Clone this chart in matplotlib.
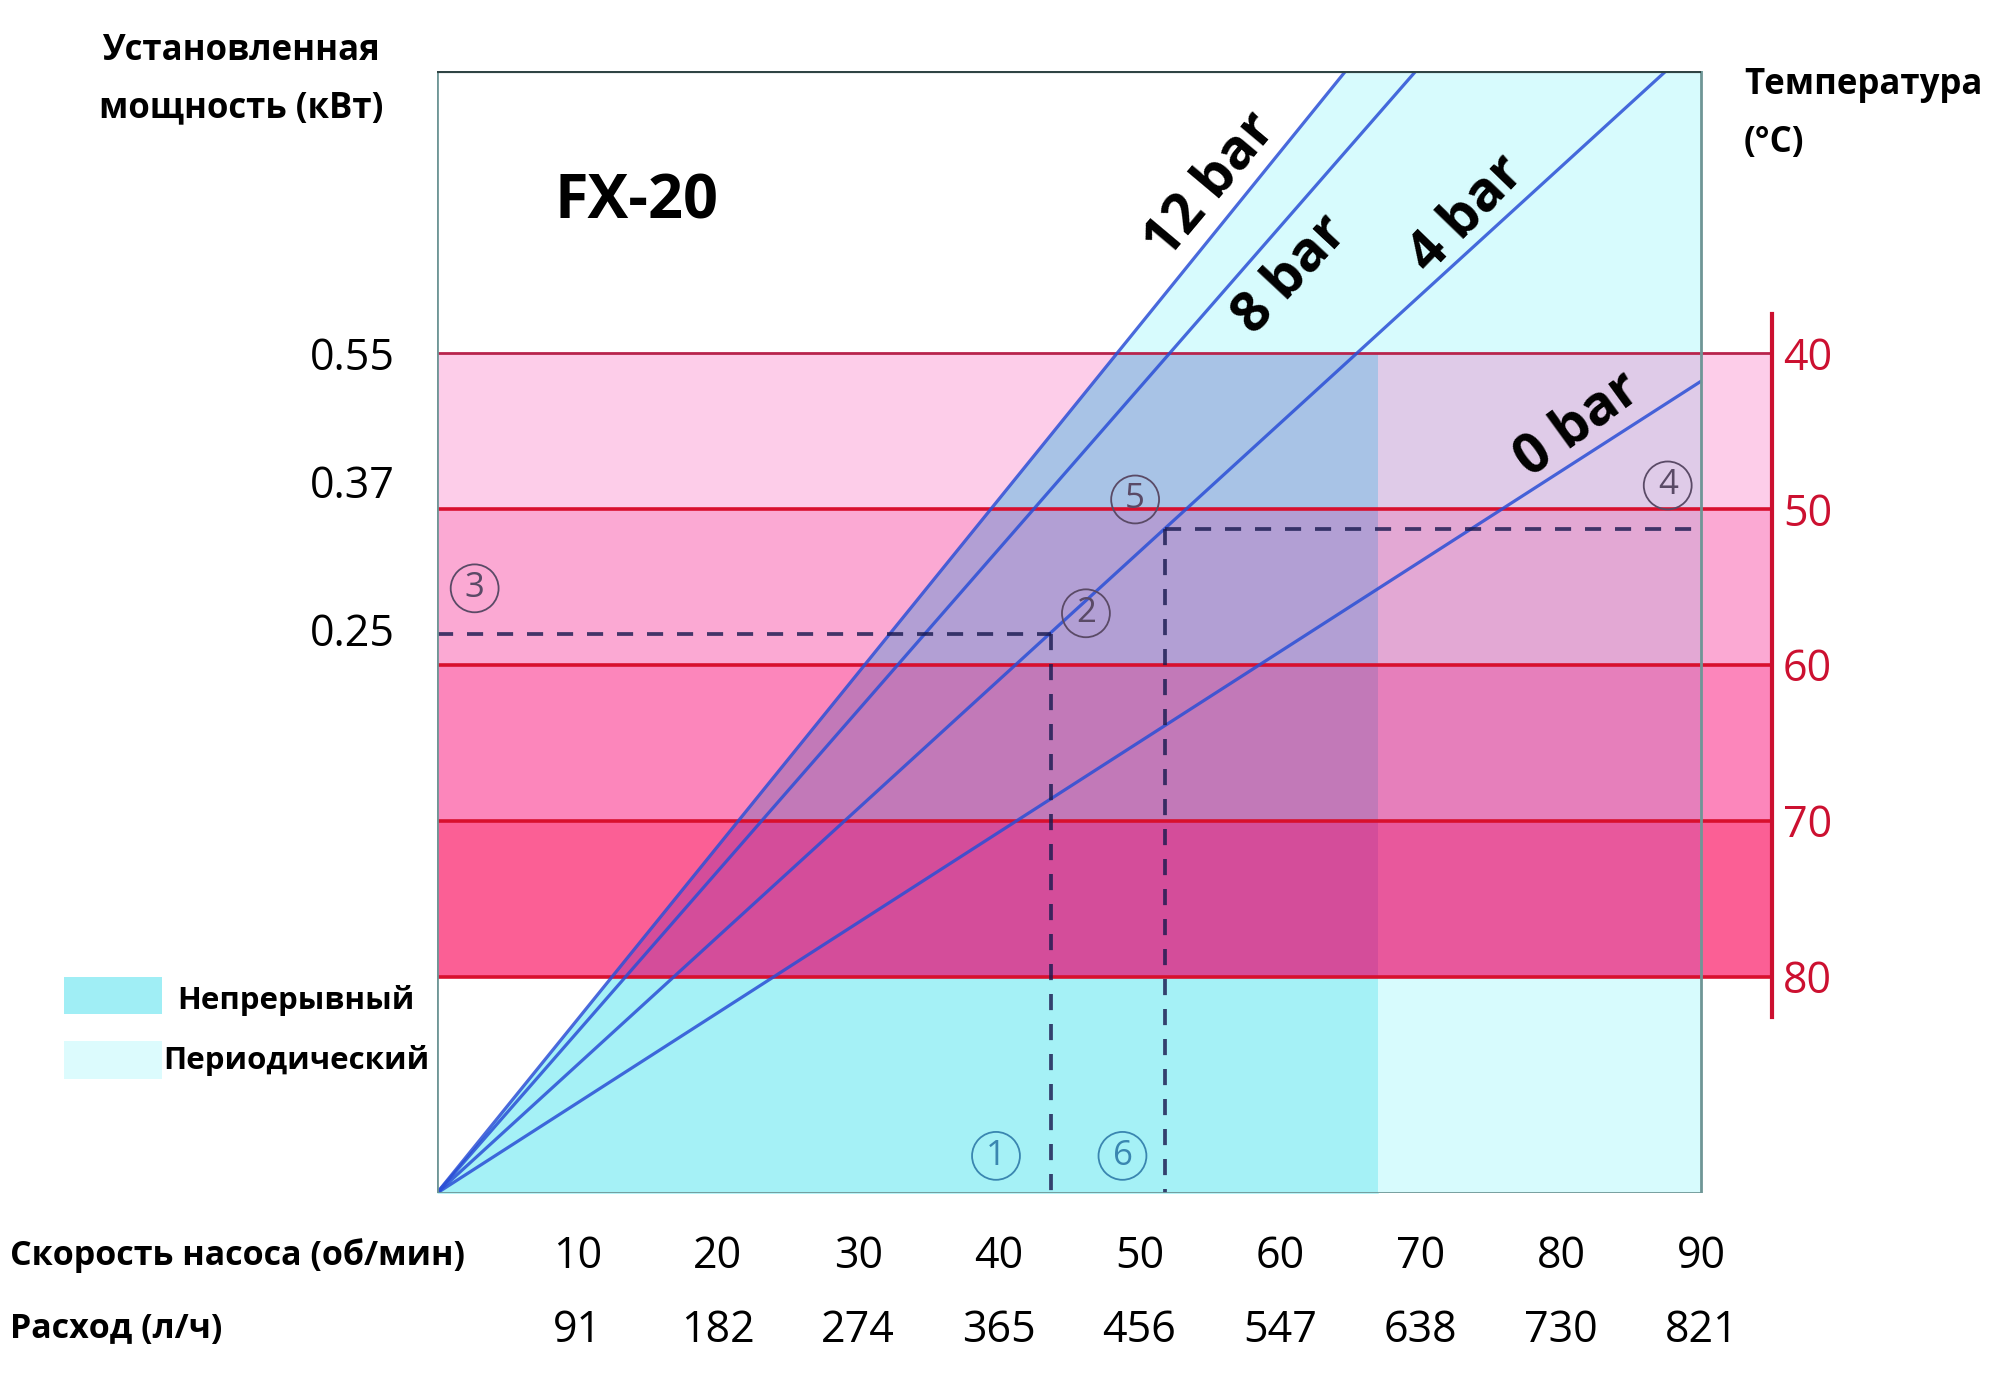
import numpy as np
import matplotlib.pyplot as plt
from matplotlib.patches import Rectangle

plt.rcParams['font.family'] = ['Open Sans', 'DejaVu Sans']

# скорость насоса (об/мин) и расход (л/ч)
rpm_ticks = [10, 20, 30, 40, 50, 60, 70, 80, 90]
flow_ticks = [91, 182, 274, 365, 456, 547, 638, 730, 821]

# температура (правая шкала)
temp_ticks = [40, 50, 60, 70, 80]
# мощность (левая шкала), положение на шкале температуры
power_labels = ['0.55', '0.37', '0.25']
power_pos = [40, 48.2, 57.7]

# линии давления: из начала координат до точки на краю графика
bar_names = ['12 bar', '8 bar', '4 bar', '0 bar']
bar_end_rpm = [64.7, 69.7, 87.5, 90.0]
bar_end_temp = [21.9, 21.9, 21.9, 41.8]

# рабочие точки примера
pt_a = (43.7, 58.0)
pt_b = (51.8, 51.3)

t_top, t_bottom = 21.9, 93.9
rpm_max = 90
rpm_cont = 67      # граница непрерывный / периодический
rpm_axis = 95.0    # красная шкала температуры

band_edges = [t_top, 40, 50, 60, 70, 80, t_bottom]
col_out = ['white', '#fdcde9', '#fba9d3', '#fc86bb', '#fb5f95', 'white']
col_cont = ['#d7fbfd', '#a8c3e6', '#b29fd4', '#c279b8', '#d44d9a', '#a5f1f6']
col_per = ['#d7fbfd', '#dfcbe8', '#e3a8d4', '#e67fbb', '#e8589c', '#d7fbfd']


def x12(t):
    t = np.asarray(t, dtype=float)
    return bar_end_rpm[0] * (t_bottom - t) / (t_bottom - t_top)


fig = plt.figure(figsize=(20, 13.75), dpi=100)
ax = fig.add_axes([0.21835, 0.13215, 0.6675, 0.81643])
ax.set_xlim(0, rpm_axis)
ax.set_ylim(t_bottom, t_top)

# цветовые зоны
for i in range(len(band_edges) - 1):
    y = np.array([band_edges[i], band_edges[i + 1]])
    ax.fill_betweenx(y, 0, x12(y), color=col_out[i], lw=0, zorder=1)
    if i == 0:
        ax.fill_betweenx(y, x12(y), rpm_max, color=col_per[i], lw=0, zorder=1)
    else:
        ax.fill_betweenx(y, x12(y), rpm_cont, color=col_cont[i], lw=0, zorder=1)
        ax.fill_betweenx(y, rpm_cont, rpm_max, color=col_per[i], lw=0, zorder=1)
    if 0 < i < len(band_edges) - 2:
        ax.fill_betweenx(y, rpm_max, rpm_axis, color=col_out[i], lw=0, zorder=1)

# красные линии температуры
ax.hlines(temp_ticks[0], 0, rpm_axis, color='#b8244c', lw=2, zorder=3)
ax.hlines(temp_ticks[1:], 0, rpm_axis, color='#d8102e', lw=2.6, zorder=3)

# линии давления
for r, t in zip(bar_end_rpm, bar_end_temp):
    ax.plot([0, r], [t_bottom, t], color='#2a4fd6', lw=2.3, alpha=0.85,
            zorder=4, solid_capstyle='butt')

# пунктир
dash = dict(color='#1a1a50', lw=2.7, alpha=0.82, dashes=(4.3, 3.7), zorder=5)
ax.plot([0, pt_a[0]], [pt_a[1], pt_a[1]], **dash)
ax.plot([pt_a[0], pt_a[0]], [pt_a[1], t_bottom], **dash)
ax.plot([pt_b[0], pt_b[0]], [pt_b[1], t_bottom], **dash)
ax.plot([pt_b[0], rpm_max], [pt_b[1], pt_b[1]], **dash)

# рамка
ax.add_patch(Rectangle((0, t_top), rpm_max, t_bottom - t_top, fill=False,
                       ec='#6f9696', lw=2, zorder=6))
ax.hlines(t_top, 0, rpm_max, color='#2f4444', lw=3, zorder=6)

# подписи линий давления
bar_txt = [(55.1, 29.3, 50), (60.8, 35.0, 47), (73.3, 31.1, 46), (81.2, 44.6, 36)]
for name, (x, y, rot) in zip(bar_names, bar_txt):
    ax.text(x, y, name, rotation=rot, rotation_mode='anchor', ha='center',
            va='center', fontsize=40, fontweight='bold', zorder=7)

ax.text(8.4, 30.4, 'FX-20', fontsize=44, fontweight='bold', va='center', zorder=7)

# номера в кружках
circles = [('1', 39.8, 91.5, '#3a86b0'), ('6', 48.8, 91.5, '#3a86b0'),
           ('3', 2.7, 55.1, '#5a4a66'), ('2', 46.2, 56.7, '#5a4a66'),
           ('5', 49.7, 49.4, '#5a4a66'), ('4', 87.6, 48.5, '#5a4a66')]
for s, x, y, c in circles:
    ax.text(x, y, s, ha='center', va='center', fontsize=25, color=c, zorder=7,
            bbox=dict(boxstyle='circle,pad=0.2', fc='none', ec=c, lw=1.3))

# оси
for sp in ax.spines.values():
    sp.set_visible(False)
ax.set_yticks(power_pos, power_labels)
ax.tick_params(axis='y', length=0, pad=30, labelsize=31)
ax.set_xticks(rpm_ticks, [str(v) for v in rpm_ticks])
ax.tick_params(axis='x', length=0, pad=30, labelsize=31)

ax2 = ax.twinx()
ax2.set_ylim(ax.get_ylim())
for k, sp in ax2.spines.items():
    sp.set_visible(k == 'right')
ax2.spines['right'].set_color('#cc1030')
ax2.spines['right'].set_linewidth(3)
ax2.spines['right'].set_bounds(37.5, 82.6)
ax2.set_yticks(temp_ticks)
ax2.tick_params(axis='y', length=0, pad=8, labelsize=31, labelcolor='#cc1030')

ax3 = ax.twiny()
ax3.set_xlim(ax.get_xlim())
for sp in ax3.spines.values():
    sp.set_visible(False)
ax3.xaxis.set_ticks_position('bottom')
ax3.set_xticks(rpm_ticks, [str(v) for v in flow_ticks])
ax3.tick_params(axis='x', length=0, pad=83, labelsize=31)


def ftxt(x, y, s, **kw):
    fig.text(x / 2000, 1 - y / 1375, s, **kw)


ftxt(241, 51, 'Установленная', ha='center', va='center', fontsize=25, fontweight='bold')
ftxt(241, 108, 'мощность (кВт)', ha='center', va='center', fontsize=25, fontweight='bold')
ftxt(1744, 85, 'Температура', ha='left', va='center', fontsize=25, fontweight='bold')
ftxt(1744, 143, '(°C)', ha='left', va='center', fontsize=25, fontweight='bold')
ftxt(10, 1256, 'Скорость насоса (об/мин)', ha='left', va='center', fontsize=24.5, fontweight='bold')
ftxt(10, 1329, 'Расход (л/ч)', ha='left', va='center', fontsize=24.5, fontweight='bold')

# легенда
fig.add_artist(Rectangle((64 / 2000, 1 - 1014 / 1375), 98 / 2000, 37 / 1375,
                         transform=fig.transFigure, color='#a0eef5', lw=0))
fig.add_artist(Rectangle((64 / 2000, 1 - 1079 / 1375), 98 / 2000, 38 / 1375,
                         transform=fig.transFigure, color='#dcfbfd', lw=0))
ftxt(177, 1001, 'Непрерывный', ha='left', va='center', fontsize=22.5, fontweight='bold')
ftxt(163, 1060, 'Периодический', ha='left', va='center', fontsize=22.5, fontweight='bold')

fig.savefig('out.png', dpi=100, facecolor='white')
